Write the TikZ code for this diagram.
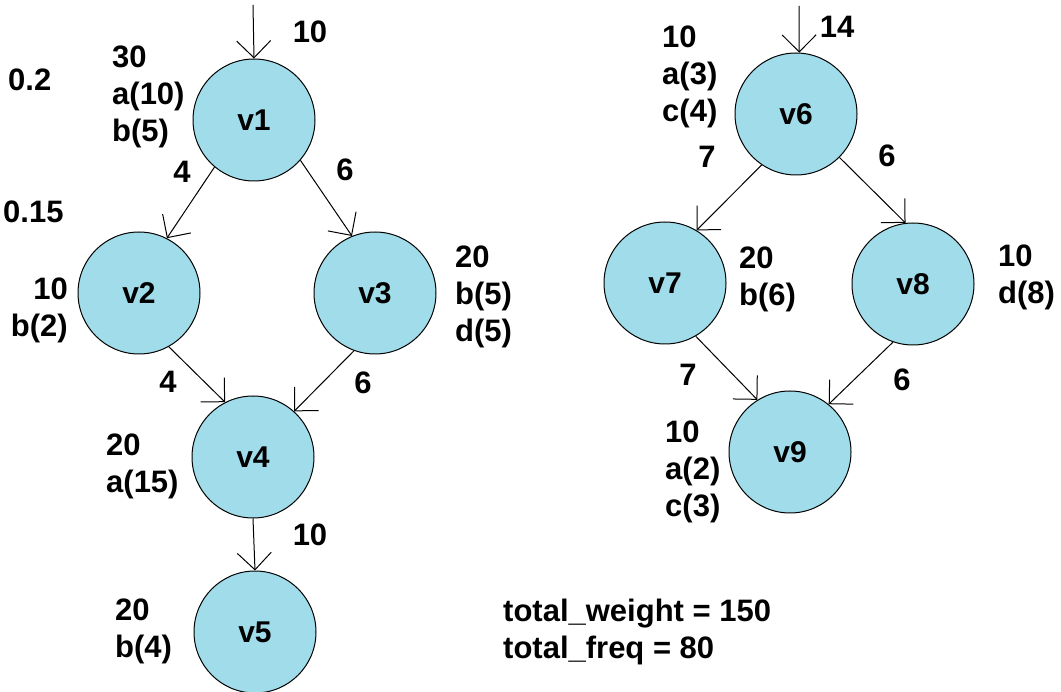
\documentclass[tikz,border=0pt]{standalone}
\usepackage{fontspec}
\setmainfont{Liberation Sans}
\usetikzlibrary{arrows.meta}
\definecolor{vfill}{RGB}{160,220,234}
\tikzset{
  vert/.style={circle, draw=black, line width=1pt, fill=vfill,
    minimum size=122pt, inner sep=0pt,
    font=\bfseries\fontsize{30}{37}\selectfont},
  lbl/.style={inner sep=0pt, font=\bfseries\fontsize{31}{37}\selectfont},
  blk/.style={lbl, align=left, anchor=west},
  conn/.style={line width=1pt,
    -{Straight Barb[length=17pt, width=34pt, line width=1pt]}},
}
\begin{document}
\begin{tikzpicture}[x=1pt, y=-1pt]
\useasboundingbox (0,0) rectangle (1061,692);

% left graph
\node[vert] (v1) at (254,120) {v1};
\node[vert] (v2) at (139,293) {v2};
\node[vert] (v3) at (375,293) {v3};
\node[vert] (v4) at (253,457) {v4};
\node[vert] (v5) at (255,632) {v5};
\coordinate (in1) at (253,5);

% right graph
\node[vert] (v6) at (796,114) {v6};
\node[vert] (v7) at (665,283) {v7};
\node[vert] (v8) at (913,284) {v8};
\node[vert] (v9) at (790,452) {v9};
\coordinate (in6) at (799,6);

% connectors
\draw[conn] (in1) -- (v1.north);
\draw[conn] (v1.230) -- (v2.63);
\draw[conn] (v1.-41) -- (v3.112);
\draw[conn] (v2.-61) -- (v4.117);
\draw[conn] (v3.250) -- (v4.48);
\draw[conn] (v4.south) -- (v5.north);

\draw[conn] (in6) -- (v6.87);
\draw[conn] (v6.236) -- (v7.59);
\draw[conn] (v6.-45) -- (v8.97);
\draw[conn] (v7.-60) -- (v9.122);
\draw[conn] (v8.251) -- (v9.51);

% edge weights
\node[lbl] (w1) at (310,32) {10};
\node[lbl] (w12) at (182,172) {4};
\node[lbl] (w13) at (345,170) {6};
\node[lbl] (w24) at (168,382) {4};
\node[lbl] (w34) at (363,383) {6};
\node[lbl] (w45) at (310,535) {10};
\node[lbl] (w6) at (837,27) {14};
\node[lbl] (w67) at (707,157) {7};
\node[lbl] (w68) at (887,156) {6};
\node[lbl] (w79) at (688,375) {7};
\node[lbl] (w89) at (902,380) {6};

% level factors
\node[lbl, anchor=west] (f1) at (8,80) {0.2};
\node[lbl, anchor=west] (f2) at (3,212) {0.15};

% node annotations
\node[blk] (a1) at (112,97) {30\\a(10)\\b(5)};
\node[lbl, align=right, anchor=east] (a2) at (68,310) {10\\b(2)};
\node[blk] (a3) at (455,297) {20\\b(5)\\d(5)};
\node[blk] (a4) at (106,466) {20\\a(15)};
\node[blk] (a5) at (115,631) {20\\b(4)};
\node[blk] (a6) at (662,77) {10\\a(3)\\c(4)};
\node[blk] (a7) at (739,279) {20\\b(6)};
\node[blk] (a8) at (998,277) {10\\d(8)};
\node[blk] (a9) at (665,472) {10\\a(2)\\c(3)};

% totals
\node[blk] (tot) at (503,632) {total\_weight = 150\\total\_freq = 80};
\end{tikzpicture}
\end{document}
